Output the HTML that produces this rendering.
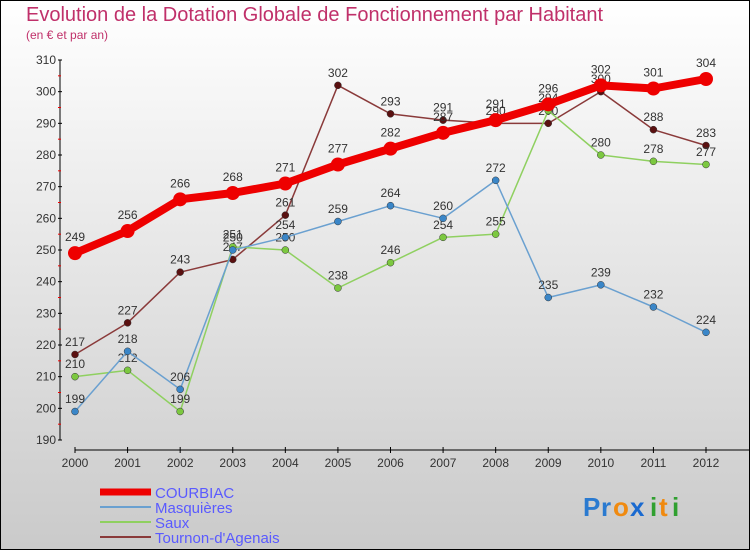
<!DOCTYPE html>
<html><head><meta charset="utf-8"><style>
body{margin:0;width:750px;height:550px;overflow:hidden}
svg{display:block;font-family:"Liberation Sans",sans-serif}
</style></head><body>
<svg id="c" width="750" height="550">
<defs><linearGradient id="bg" x1="0" y1="0" x2="0" y2="1"><stop offset="0" stop-color="#ffffff"/><stop offset="1" stop-color="#cacaca"/></linearGradient></defs>
<rect x="0.5" y="0.5" width="749" height="549" fill="url(#bg)" stroke="#000"/>
<text x="26" y="21" font-size="20" fill="#c0306a">Evolution de la Dotation Globale de Fonctionnement par Habitant</text>
<text x="26" y="39" font-size="12" fill="#c0306a">(en € et par an)</text>
<g id="axes"></g><g id="series"></g><g id="legend"></g>
<g font-size="26" font-weight="bold">
<text x="583" y="516" fill="#2a7ad0">P</text><text x="601" y="516" fill="#2a7ad0">r</text><text x="613" y="516" fill="#f08a10">o</text><text x="630" y="516" fill="#1a6ad0">x</text><text x="650" y="516" fill="#30a030">i</text><text x="659" y="516" fill="#f08a10">t</text><text x="672" y="516" fill="#30a030">i</text>
</g>
</svg>
<script>
const years=[2000,2001,2002,2003,2004,2005,2006,2007,2008,2009,2010,2011,2012];
const courbiac=[249,256,266,268,271,277,282,287,291,296,302,301,304];
const masquieres=[199,218,206,250,254,259,264,260,272,235,239,232,224];
const saux=[210,212,199,251,250,238,246,254,255,294,280,278,277];
const tournon=[217,227,243,247,261,302,293,291,290,290,300,288,283];
const yTicks=[190,200,210,220,230,240,250,260,270,280,290,300,310];
const NS="http://www.w3.org/2000/svg";
const x=i=>75+i*(706-75)/(years.length-1);
const y=v=>440-(v-190)*(380/120);
function mk(t,a,p){const e=document.createElementNS(NS,t);for(const k in a)e.setAttribute(k,a[k]);p.appendChild(e);return e;}
const ax=document.getElementById('axes');
const yl=mk('line',{x1:60,y1:60,x2:60,y2:440,stroke:'#000'},ax);


yTicks.forEach(v=>{
 mk('line',{x1:58,x2:62,y1:y(v),y2:y(v),stroke:'#000'},ax);
 if(v<310){const m=mk('line',{x1:58,x2:61,y1:y(v+5),y2:y(v+5),stroke:'#e00'},ax);}
 const t=mk('text',{x:56,y:y(v)+4,'text-anchor':'end','font-size':12,fill:'#333'},ax);
 t.textContent=v;
 
 
});
const xl=mk('line',{x1:75,y1:450,x2:750,y2:450,stroke:'#000'},ax);


years.forEach((yr,i)=>{
 mk('line',{x1:x(i),x2:x(i),y1:447,y2:453,stroke:'#000'},ax);
 const t=mk('text',{x:x(i),y:467,'text-anchor':'middle','font-size':12,fill:'#333'},ax);
 t.textContent=yr;
 
 
});
const S=document.getElementById('series');
const series=[
 {n:'tournon',d:tournon,c:'#8a3a3a',m:'#5a1010',w:1.5,r:3.5},
 {n:'saux',d:saux,c:'#8fd060',m:'#7cc840',w:1.5,r:3.5},
 {n:'masquieres',d:masquieres,c:'#6aa0d0',m:'#3a86c8',w:1.5,r:3.5},
 {n:'courbiac',d:courbiac,c:'#ee0000',m:'#ee0000',w:8,r:7}
];
series.forEach(s=>{
 const g=mk('g',{},S);
 
 
 const pl=mk('polyline',{points:s.d.map((v,i)=>x(i)+','+y(v)).join(' '),fill:'none',stroke:s.c,'stroke-width':s.w,'stroke-linejoin':'round'},g);
 
 
 s.d.forEach((v,i)=>{
  const c=mk('circle',{cx:x(i),cy:y(v),r:s.r,fill:s.m,stroke:s.w>2?'none':'#333','stroke-width':0.5},g);
  
  
  const t=mk('text',{x:x(i),y:y(v)-(s.r+5),'text-anchor':'middle','font-size':12,fill:'#333'},g);
  t.textContent=v;
  
  
 });
});
const L=document.getElementById('legend');
const leg=[['COURBIAC','#ee0000',7],['Masquières','#6aa0d0',2],['Saux','#8fd060',2],["Tournon-d'Agenais",'#8a3a3a',2]];
leg.forEach((e,i)=>{
 const yy=492+i*15;
 const g=mk('g',{},L);
 
 
 mk('line',{x1:100,x2:151,y1:yy,y2:yy,stroke:e[1],'stroke-width':e[2]},g);
 const t=mk('text',{x:155,y:yy+6,'font-size':15,fill:'#5a5aff'},g);
 t.textContent=e[0];
});
</script>
</body></html>
